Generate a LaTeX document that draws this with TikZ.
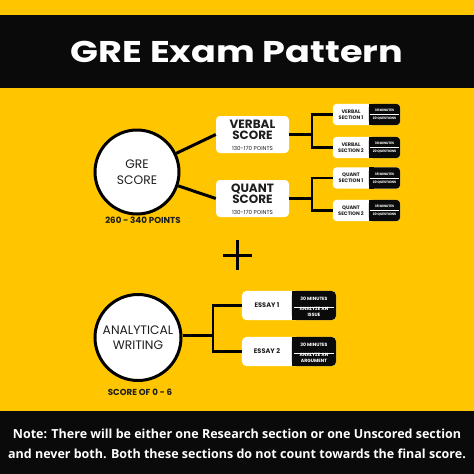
\documentclass[tikz,border=0pt]{standalone}
\usepackage{fontspec}
\setmainfont{Poppins}
\newfontfamily\notefont{Open Sans}
\definecolor{gold}{HTML}{FFC600}
\definecolor{band}{HTML}{0A0A0A}
\definecolor{txt}{HTML}{1E1E1E}
\pgfdeclarelayer{bg}
\pgfdeclarelayer{boxbg}
\pgfsetlayers{bg,boxbg,main}
\tikzset{
  ln/.style={line width=3pt},
  brk/.style={line width=2.4pt},
  circ/.style={circle, draw=black, line width=3pt, fill=white, minimum size=84pt, inner sep=0pt, align=center, text=txt, font=\fontsize{12.3}{15.5}\selectfont},
  scorebox/.style={rectangle, rounded corners=4pt, fill=white, minimum width=73pt, minimum height=37pt, inner sep=0pt},
  scoretxt/.style={inner sep=0pt, align=center, text=txt, font=\bfseries\fontsize{12}{11.5}\selectfont},
  ptstxt/.style={inner sep=0pt, text=txt, font=\fontsize{5.6}{6}\selectfont},
  secw/.style={minimum width=36pt, minimum height=21pt, inner sep=0pt, align=center, text=txt, font=\bfseries\fontsize{5}{5.8}\selectfont},
  secb/.style={minimum width=31pt, minimum height=21pt, inner sep=0pt},
  essw/.style={minimum width=50pt, minimum height=29pt, inner sep=0pt, align=center, text=txt, font=\bfseries\fontsize{6.6}{8}\selectfont},
  essb/.style={minimum width=44pt, minimum height=29pt, inner sep=0pt},
  tinytxt/.style={text=white, inner sep=0pt, align=center, font=\bfseries\fontsize{3.3}{3.8}\selectfont},
  smalltxt/.style={text=white, inner sep=0pt, align=center, font=\bfseries\fontsize{4.6}{5.4}\selectfont},
  caption/.style={text=txt, inner sep=0pt, font=\bfseries\fontsize{8.7}{10}\selectfont},
}
\newcommand{\mysec}[5]{%
  \node[secw] (#1) at (351,#2) {#3};
  \node[secb] (#1b) at (384.5,#2) {};
  \begin{pgfonlayer}{boxbg}
    \fill[white, rounded corners=4pt] (#1.north west) rectangle (#1b.south east);
    \fill[band, rounded corners=4pt] (#1b.north west) rectangle (#1b.south east);
    \fill[band] (#1b.north west) rectangle ([xshift=5pt]#1b.south west);
  \end{pgfonlayer}
  \draw[white, line width=0.4pt] ([xshift=1.5pt]#1b.west) -- ([xshift=-1.5pt]#1b.east);
  \node[tinytxt] at ([yshift=4pt]#1b.center) {#4};
  \node[tinytxt] at ([yshift=-4.3pt]#1b.center) {#5};
}
\newcommand{\myess}[4]{%
  \node[essw] (#1) at (267,#2) {#3};
  \node[essb] (#1b) at (314,#2) {};
  \begin{pgfonlayer}{boxbg}
    \fill[white, rounded corners=5pt] (#1.north west) rectangle (#1b.south east);
    \fill[band, rounded corners=5pt] (#1b.north west) rectangle (#1b.south east);
    \fill[band] (#1b.north west) rectangle ([xshift=6pt]#1b.south west);
  \end{pgfonlayer}
  \draw[white, line width=0.4pt] ([xshift=2pt,yshift=-1.5pt]#1b.west) -- ([xshift=-2pt,yshift=-1.5pt]#1b.east);
  \node[smalltxt] at ([yshift=7pt]#1b.center) {30 MINUTES};
  \node[smalltxt] at ([yshift=-6.5pt]#1b.center) {#4};
}
\begin{document}
\begin{tikzpicture}[x=1pt,y=-1pt]
\begin{pgfonlayer}{bg}
  \fill[gold] (0,0) rectangle (474,474);
  \fill[band] (0,15) rectangle (474,88);
  \fill[band] (0,411) rectangle (474,474);
\end{pgfonlayer}
\useasboundingbox (0,0) rectangle (474,474);

\node[text=white, xscale=1.22, font=\bfseries\fontsize{30}{34}\selectfont] (title) at (237,52) {GRE Exam Pattern};

% GRE score
\node[circ] (gre) at (137,172) {GRE\\SCORE};
\node[caption] (grepts) at (143,220) {260 - 340 POINTS};

\node[scorebox] (verbal) at (252.5,134.5) {};
\node[scoretxt] (verbalt) at (252.5,130) {VERBAL\\SCORE};
\node[ptstxt] (verbalp) at (252.5,148) {130-170 POINTS};
\node[scorebox] (quant) at (252.5,198.5) {};
\node[scoretxt] (quantt) at (252.5,194) {QUANT\\SCORE};
\node[ptstxt] (quantp) at (252.5,212) {130-170 POINTS};

\draw[ln] (gre) -- (verbal.west);
\draw[ln] (gre) -- (quant.west);

\mysec{vs1}{114.5}{VERBAL\\SECTION 1}{30 MINUTES}{20 QUESTIONS}
\mysec{vs2}{147.5}{VERBAL\\SECTION 2}{30 MINUTES}{20 QUESTIONS}
\mysec{qs1}{178}{QUANT\\SECTION 1}{35 MINUTES}{20 QUESTIONS}
\mysec{qs2}{210.5}{QUANT\\SECTION 2}{35 MINUTES}{20 QUESTIONS}

\coordinate (vj) at (312,134.5);
\coordinate (qj) at (312,198.5);
\draw[brk] (verbal.east) -- (vj);
\draw[brk] (vs1.west) -| (vj);
\draw[brk] (vs2.west) -| (vj);
\draw[brk] (quant.east) -- (qj);
\draw[brk] (qs1.west) -| (qj);
\draw[brk] (qs2.west) -| (qj);

% plus
\coordinate (plus) at (237,255);
\draw[line width=3pt] ([xshift=-14.5pt]plus) -- ([xshift=14.5pt]plus);
\draw[line width=3pt] ([yshift=15pt]plus) -- ([yshift=-15pt]plus);

% analytical writing
\node[circ, minimum size=86pt] (aw) at (138,337.5) {ANALYTICAL\\WRITING};
\node[caption] (awpts) at (140,392) {SCORE OF 0 - 6};

\myess{e1}{305.5}{ESSAY 1}{ANALYZE AN\\ISSUE}
\myess{e2}{351.5}{ESSAY 2}{ANALYZE AN\\ARGUMENT}

\coordinate (aj) at (213,335);
\draw[ln] (aw.east |- aj) -- (aj);
\draw[brk] (e1.west) -| (aj);
\draw[brk] (e2.west) -| (aj);

% note
\node[text=white, align=center, font=\notefont\bfseries\fontsize{12.5}{20}\selectfont] (note) at (237,444) {Note: There will be either one Research section or one Unscored section\\and never both. Both these sections do not count towards the final score.};
\end{tikzpicture}
\end{document}
